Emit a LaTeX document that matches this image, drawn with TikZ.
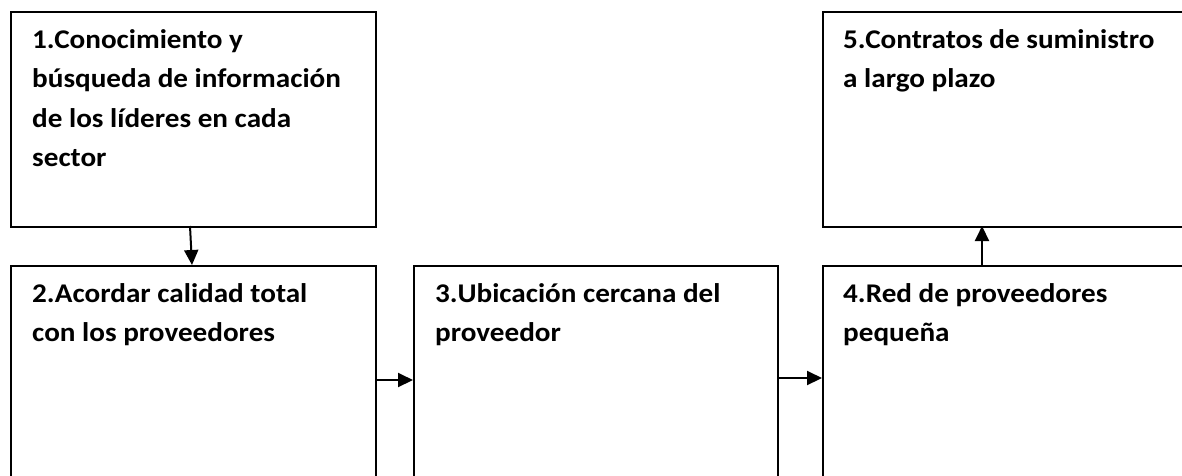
\documentclass[tikz,border=0pt]{standalone}
\usepackage{fontspec}
\setmainfont{Carlito}[FakeStretch=1.08]
\usetikzlibrary{arrows.meta}
\begin{document}
\begin{tikzpicture}[x=1pt,y=1pt,
  box/.style={draw=black,line width=1.5pt,rectangle,anchor=north west,inner sep=0pt},
  lbl/.style={anchor=north west,inner sep=0pt,align=left,
    font=\fontsize{27}{39.5}\selectfont\bfseries},
  conn/.style={line width=2pt,-{Triangle[length=15pt,width=14pt]}}]
\useasboundingbox (0,0) rectangle (1182,-475);
\fill[white] (0,0) rectangle (1182,-475);
\clip (0,0) rectangle (1182,-475);
% boxes
\node[box,minimum width=365pt,minimum height=215pt] (b1) at (10,-11) {};
\node[box,minimum width=400pt,minimum height=215pt] (b5) at (822,-11) {};
\node[box,minimum width=365pt,minimum height=250pt] (b2) at (10,-265) {};
\node[box,minimum width=364pt,minimum height=250pt] (b3) at (413,-265) {};
\node[box,minimum width=400pt,minimum height=250pt] (b4) at (822,-265) {};
% labels
\node[lbl] (t1) at (32,-29) {1.Conocimiento y\\búsqueda de información\\de los líderes en cada\\sector};
\node[lbl] (t5) at (843,-29) {5.Contratos de suministro\\a largo plazo};
\node[lbl] (t2) at (32,-283) {2.Acordar calidad total\\con los proveedores};
\node[lbl] (t3) at (435,-283) {3.Ubicación cercana del\\proveedor};
\node[lbl] (t4) at (843,-283) {4.Red de proveedores\\pequeña};
% connectors
\coordinate (a1) at (190,-226);
\coordinate (a2) at (192,-265);
\draw[conn] (a1) -- (a2);
\draw[conn] (b2.east |- 0,-380) -- (b3.west |- 0,-380);
\draw[conn] (b3.east |- 0,-378) -- (b4.west |- 0,-378);
\draw[conn] (982,-265) -- (982,-226);
\end{tikzpicture}
\end{document}
